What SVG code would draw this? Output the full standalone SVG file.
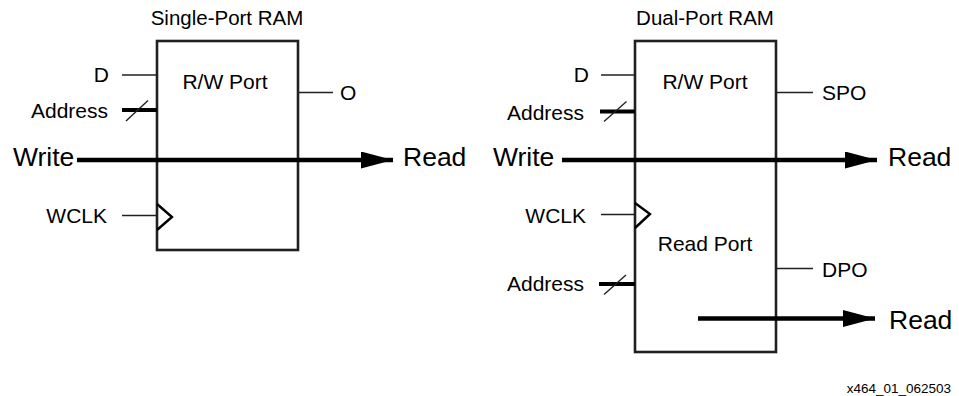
<svg xmlns="http://www.w3.org/2000/svg" width="959" height="396" viewBox="0 0 959 396">
<style>
  text { font-family: "Liberation Sans", Arial, Helvetica, sans-serif; fill: #000; }
  .lbl { font-size: 21px; }
  .big { font-size: 26.5px; }
  .ttl { font-size: 20.5px; }
  .note { font-size: 13.5px; }
  .box { fill: #fff; stroke: #231f20; stroke-width: 2.6; }
  .thin { stroke: #231f20; stroke-width: 1.4; fill: none; }
  .bus { stroke: #000; stroke-width: 4; fill: none; }
  .flow { stroke: #000; stroke-width: 4.5; fill: none; }
  .clk { stroke: #000; stroke-width: 2.4; fill: none; stroke-linejoin: miter; }
</style>
<defs>
  <marker id="arrow" markerUnits="userSpaceOnUse" markerWidth="32" markerHeight="17" refX="32" refY="8.5" orient="auto">
    <path d="M0,0 L32,8.5 L0,17 z" fill="#000"/>
  </marker>
</defs>

<g id="single-port-ram">
  <text class="ttl" x="227" y="25" text-anchor="middle">Single-Port RAM</text>
  <rect class="box" x="157" y="41" width="141" height="209"/>
  <text class="lbl" x="225" y="89" text-anchor="middle">R/W Port</text>
  <polyline class="clk" points="157,204 172,217 157,230"/>
  <text class="lbl" x="109" y="82" text-anchor="end">D</text>
  <text class="lbl" x="108" y="118" text-anchor="end">Address</text>
  <text class="lbl" x="107" y="223" text-anchor="end">WCLK</text>
  <text class="lbl" x="340" y="100">O</text>
  <text class="big" x="13" y="166">Write</text>
  <text class="big" x="403" y="166">Read</text>
</g>

<g id="dual-port-ram">
  <text class="ttl" x="705" y="25" text-anchor="middle">Dual-Port RAM</text>
  <rect class="box" x="635" y="41" width="141" height="311"/>
  <text class="lbl" x="705" y="89" text-anchor="middle">R/W Port</text>
  <text class="lbl" x="705" y="251" text-anchor="middle">Read Port</text>
  <polyline class="clk" points="635,203 650,214 635,228"/>
  <text class="lbl" x="589" y="82" text-anchor="end">D</text>
  <text class="lbl" x="584" y="120" text-anchor="end">Address</text>
  <text class="lbl" x="586" y="223" text-anchor="end">WCLK</text>
  <text class="lbl" x="584" y="291" text-anchor="end">Address</text>
  <text class="lbl" x="822" y="100">SPO</text>
  <text class="lbl" x="822" y="277">DPO</text>
  <text class="big" x="493" y="166">Write</text>
  <text class="big" x="888" y="166">Read</text>
  <text class="big" x="889" y="329">Read</text>
</g>

<g id="connectors">
  <!-- single-port -->
  <line class="thin" x1="122" y1="75" x2="157" y2="75"/>
  <line class="bus" x1="122" y1="110" x2="157" y2="110"/>
  <line class="thin" x1="126" y1="121" x2="148" y2="100.5"/>
  <line class="thin" x1="122" y1="215.5" x2="157" y2="215.5"/>
  <line class="thin" x1="298" y1="92.5" x2="333" y2="92.5"/>
  <line class="flow" x1="77" y1="160" x2="393" y2="160" marker-end="url(#arrow)"/>
  <!-- dual-port -->
  <line class="thin" x1="601" y1="75" x2="635" y2="75"/>
  <line class="bus" x1="600" y1="111.5" x2="635" y2="111.5"/>
  <line class="thin" x1="604" y1="121.5" x2="626.5" y2="101.5"/>
  <line class="thin" x1="601" y1="214.5" x2="635" y2="214.5"/>
  <line class="bus" x1="599" y1="284" x2="635" y2="284"/>
  <line class="thin" x1="604" y1="294.5" x2="626" y2="275"/>
  <line class="thin" x1="776" y1="92.5" x2="813" y2="92.5"/>
  <line class="thin" x1="776" y1="268.5" x2="813" y2="268.5"/>
  <line class="flow" x1="562" y1="160" x2="877" y2="160" marker-end="url(#arrow)"/>
  <line class="flow" x1="698" y1="318.5" x2="875" y2="318.5" marker-end="url(#arrow)"/>
</g>

<text class="note" x="951" y="393" text-anchor="end">x464_01_062503</text>
</svg>
